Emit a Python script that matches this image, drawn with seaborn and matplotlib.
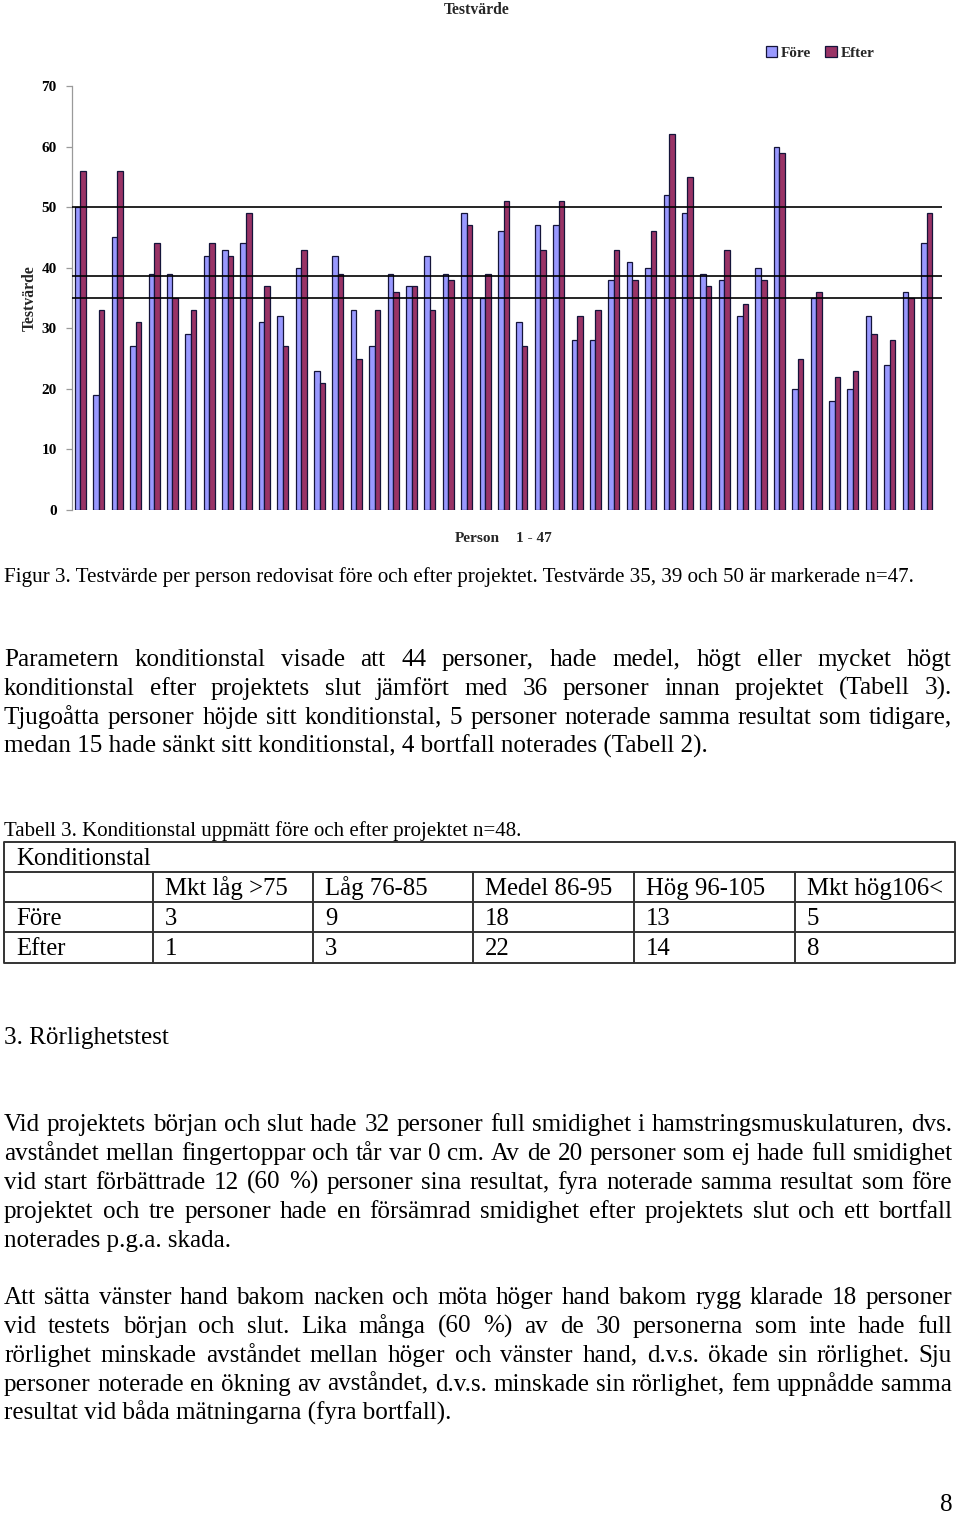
import matplotlib
matplotlib.use("Agg")
import matplotlib.pyplot as plt
from matplotlib.patches import Patch
import seaborn as sns
import pandas as pd

# ---------------- data ----------------
persons = [str(i) for i in range(1, 48)]
fore = [50, 19, 45, 27, 39, 39, 29, 42, 43, 44, 31, 32, 40, 23, 42, 33,
        27, 39, 37, 42, 39, 49, 35, 46, 31, 47, 47, 28, 28, 38, 41, 40,
        52, 49, 39, 38, 32, 40, 60, 20, 35, 18, 20, 32, 24, 36, 44]
efter = [56, 33, 56, 31, 44, 35, 33, 44, 42, 49, 37, 27, 43, 21, 39, 25,
         33, 36, 37, 33, 38, 47, 39, 51, 27, 43, 51, 32, 33, 43, 38, 46,
         62, 55, 37, 43, 34, 38, 59, 25, 36, 22, 23, 29, 28, 35, 49]
series_names = ["Före", "Efter"]
marked_levels = [50, 38.7, 35]
yticks = [0, 10, 20, 30, 40, 50, 60, 70]

table_header = ["", "Mkt låg >75", "Låg 76-85", "Medel 86-95", "Hög 96-105", "Mkt hög106<"]
table_fore = ["Före", "3", "9", "18", "13", "5"]
table_efter = ["Efter", "1", "3", "22", "14", "8"]

caption = "Figur 3. Testvärde per person redovisat före och efter projektet. Testvärde 35, 39 och 50 är markerade n=47."
para1 = [
    ("Parametern konditionstal visade att 44 personer, hade medel, högt eller mycket högt", True),
    ("konditionstal efter projektets slut jämfört med 36 personer innan projektet (Tabell 3).", True),
    ("Tjugoåtta personer höjde sitt konditionstal, 5 personer noterade samma resultat som tidigare,", True),
    ("medan 15 hade sänkt sitt konditionstal, 4 bortfall noterades (Tabell 2).", False),
]
table_caption = "Tabell 3. Konditionstal uppmätt före och efter projektet n=48."
heading = "3. Rörlighetstest"
para2 = [
    ("Vid projektets början och slut hade 32 personer full smidighet i hamstringsmuskulaturen, dvs.", True),
    ("avståndet mellan fingertoppar och tår var 0 cm. Av de 20 personer som ej hade full smidighet", True),
    ("vid start förbättrade 12 (60 %) personer sina resultat, fyra noterade samma resultat som före", True),
    ("projektet och tre personer hade en försämrad smidighet efter projektets slut och ett bortfall", True),
    ("noterades p.g.a. skada.", False),
]
para3 = [
    ("Att sätta vänster hand bakom nacken och möta höger hand bakom rygg klarade 18 personer", True),
    ("vid testets början och slut. Lika många (60 %) av de 30 personerna som inte hade full", True),
    ("rörlighet minskade avståndet mellan höger och vänster hand, d.v.s. ökade sin rörlighet. Sju", True),
    ("personer noterade en ökning av avståndet, d.v.s. minskade sin rörlighet, fem uppnådde samma", True),
    ("resultat vid båda mätningarna (fyra bortfall).", False),
]

# ---------------- figure ----------------
sns.set_theme(style="white")
SERIF = "Liberation Serif"
plt.rcParams["font.family"] = [SERIF, "DejaVu Serif"]

W, H = 960, 1514
fig = plt.figure(figsize=(W / 100, H / 100), dpi=100)
fig.patch.set_facecolor("white")

page = fig.add_axes([0, 0, 1, 1])
page.set_xlim(0, W)
page.set_ylim(H, 0)
page.axis("off")
page.patch.set_visible(False)
renderer = fig.canvas.get_renderer()


def measure(s, fs, weight="normal"):
    t = page.text(0, 0, s, fontsize=fs, fontweight=weight)
    w = t.get_window_extent(renderer=renderer).width
    t.remove()
    return w


def calib(s, target, weight="normal"):
    return 16 * target / measure(s, 16, weight)


fs_body = calib("medan 15 hade sänkt sitt konditionstal, 4 bortfall noterades (Tabell 2).", 704)
fs_cap = calib(caption, 907)
fs_tcap = calib(table_caption, 517)
fs_cell = calib("Konditionstal", 135)


def put(x, y, s, fs, **kw):
    """Place text with its visual centre-line at y (pixel coords), using a baseline anchor."""
    px = fs * 100 / 72
    page.text(x, y + 0.235 * px + 2, s, fontsize=fs, va="baseline", color="black", **kw)


def draw_line(text, y, fs, justify, x0=4, x1=952):
    if not justify:
        put(x0, y, text, fs, ha="left")
        return
    words = text.split(" ")
    widths = [measure(w_, fs) for w_ in words]
    gap = (x1 - x0 - sum(widths)) / (len(words) - 1)
    x = x0
    for w_, wd in zip(words, widths):
        put(x, y, w_, fs, ha="left")
        x += wd + gap


# ---------------- chart ----------------
df = pd.DataFrame({
    "Person": persons * 2,
    "Testvärde": fore + efter,
    "Tid": [series_names[0]] * len(fore) + [series_names[1]] * len(efter),
})
colors = {"Före": "#9999FF", "Efter": "#993366"}

ax = fig.add_axes([72 / W, 1 - 510 / H, 870 / W, 424 / H])
ax.patch.set_visible(False)
sns.barplot(data=df, x="Person", y="Testvärde", hue="Tid", order=persons,
            hue_order=series_names, palette=colors, width=0.6, dodge=True,
            edgecolor="#14143a", linewidth=0.9, saturation=1, legend=False,
            ax=ax, errorbar=None)
for lv in marked_levels:
    ax.axhline(lv, color="black", linewidth=1.2, zorder=5)
ax.set_xlim(-0.46, 46.84)
ax.set_ylim(0, 70)
ax.set_yticks(yticks)
ax.set_yticklabels([str(v) for v in yticks], fontweight="bold", fontsize=11)
ax.set_xticks([])
ax.set_xlabel("")
ax.set_ylabel("")
for s in ["top", "right", "bottom"]:
    ax.spines[s].set_visible(False)
ax.spines["left"].set_color("#9a9a9a")
ax.spines["left"].set_linewidth(0.9)
ax.tick_params(axis="y", left=True, length=4, width=0.9, color="#9a9a9a", pad=7,
               labelcolor="black")

page.text(477, 10, "Testvärde", fontsize=11.3, fontweight="bold", ha="center", va="center")
page.text(30, 298, "Testvärde", fontsize=11.3, fontweight="bold", ha="center", va="center",
          rotation=90)
page.text(455, 538, "Person", fontsize=11, fontweight="bold", ha="left", va="center")
page.text(516, 538, "1 - 47", fontsize=11, fontweight="bold", ha="left", va="center")

handles = [Patch(facecolor=colors[n], edgecolor="#14143a", linewidth=0.9, label=n)
           for n in series_names]
leg = fig.legend(handles=handles, loc="center", bbox_to_anchor=(820 / W, 1 - 53 / H),
                 bbox_transform=fig.transFigure, ncol=2, frameon=False,
                 handlelength=0.75, handleheight=0.75, handletextpad=0.25,
                 columnspacing=0.9, prop={"family": SERIF, "weight": "bold", "size": 11})

# ---------------- text page ----------------
put(4, 575, caption, fs_cap, ha="left")

for i, (ln, just) in enumerate(para1):
    draw_line(ln, 658 + 29 * i, fs_body, just)

put(4, 829, table_caption, fs_tcap, ha="left")

# table
lc = "#333333"
lw = 1.4
xl, xr = 4, 955
rows_y = [842, 872, 902, 932, 963]
cols_x = [4, 153, 313, 473, 634, 795, 955]
for y in rows_y:
    page.plot([xl, xr], [y, y], color=lc, lw=lw, solid_capstyle="butt")
page.plot([xl, xl], [rows_y[0], rows_y[-1]], color=lc, lw=lw)
page.plot([xr, xr], [rows_y[0], rows_y[-1]], color=lc, lw=lw)
for x in cols_x[1:-1]:
    page.plot([x, x], [rows_y[1], rows_y[-1]], color=lc, lw=lw)
put(16, 857, "Konditionstal", fs_cell, ha="left")
for r, row in enumerate([table_header, table_fore, table_efter]):
    yc = 887 + 30 * r
    for c, val in enumerate(row):
        if val:
            put(cols_x[c] + 12, yc, val, fs_cell, ha="left")

put(4, 1036, heading, fs_body, ha="left")

for i, (ln, just) in enumerate(para2):
    draw_line(ln, 1123 + 29 * i, fs_body, just)
for i, (ln, just) in enumerate(para3):
    draw_line(ln, 1296 + 29 * i, fs_body, just)

put(946, 1503, "8", fs_body, ha="center")

fig.savefig("out.png", dpi=100)
